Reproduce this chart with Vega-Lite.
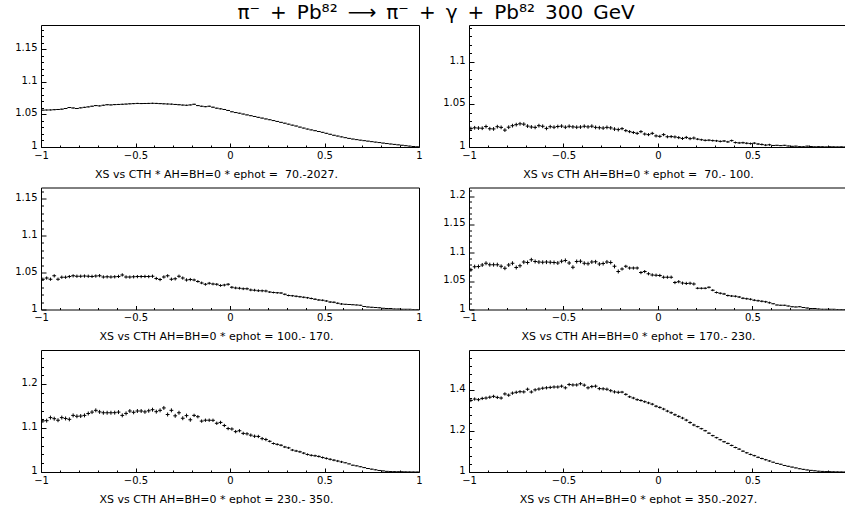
{
  "$schema": "https://vega.github.io/schema/vega-lite/v6.json",
  "background": "white",
  "padding": {"left": 14, "top": 3, "right": 0, "bottom": 0},
  "title": {"text": "π⁻\u2002+\u2002Pb⁸²\u2002⟶\u2002π⁻\u2002+\u2002γ\u2002+\u2002Pb⁸²\u2002300\u2002GeV", "font": "DejaVu Sans", "fontSize": 20, "fontWeight": "normal", "color": "black", "anchor": "middle", "offset": 2, "dx": 6},
  "config": {
    "view": {"stroke": null},
    "axis": {"grid": false, "domainColor": "black", "domainWidth": 1, "tickColor": "black", "tickWidth": 1, "labelColor": "black", "labelFont": "DejaVu Sans", "labelFontSize": 10, "titleFont": "DejaVu Sans", "titleFontSize": 11, "titleFontWeight": "normal", "titleColor": "black"}
  },
  "bounds": "flush",
  "columns": 2,
  "spacing": {"row": 40.5, "column": 50},
  "datasets": {
    "p1": [{"x":-0.99,"y":1.0565,"e":0.0008},{"x":-0.97,"y":1.0567,"e":0.0008},{"x":-0.95,"y":1.0568,"e":0.0008},{"x":-0.93,"y":1.0572,"e":0.0008},{"x":-0.91,"y":1.0575,"e":0.0008},{"x":-0.89,"y":1.058,"e":0.0008},{"x":-0.87,"y":1.059,"e":0.0008},{"x":-0.85,"y":1.0605,"e":0.0008},{"x":-0.83,"y":1.0598,"e":0.0008},{"x":-0.81,"y":1.059,"e":0.0008},
      {"x":-0.79,"y":1.06,"e":0.0008},{"x":-0.77,"y":1.0608,"e":0.0008},{"x":-0.75,"y":1.0615,"e":0.0008},{"x":-0.73,"y":1.0625,"e":0.0008},{"x":-0.71,"y":1.0635,"e":0.0008},{"x":-0.69,"y":1.063,"e":0.0008},{"x":-0.67,"y":1.064,"e":0.0008},{"x":-0.65,"y":1.0648,"e":0.0008},{"x":-0.63,"y":1.0645,"e":0.0008},{"x":-0.61,"y":1.065,"e":0.0008},
      {"x":-0.59,"y":1.0652,"e":0.0008},{"x":-0.57,"y":1.0655,"e":0.0008},{"x":-0.55,"y":1.0658,"e":0.0008},{"x":-0.53,"y":1.0662,"e":0.0008},{"x":-0.51,"y":1.0665,"e":0.0008},{"x":-0.49,"y":1.0668,"e":0.0008},{"x":-0.47,"y":1.0666,"e":0.0008},{"x":-0.45,"y":1.0667,"e":0.0008},{"x":-0.43,"y":1.0668,"e":0.0008},{"x":-0.41,"y":1.067,"e":0.0008},
      {"x":-0.39,"y":1.0668,"e":0.0008},{"x":-0.37,"y":1.0665,"e":0.0008},{"x":-0.35,"y":1.0662,"e":0.0008},{"x":-0.33,"y":1.066,"e":0.0008},{"x":-0.31,"y":1.0657,"e":0.0008},{"x":-0.29,"y":1.0652,"e":0.0008},{"x":-0.27,"y":1.0648,"e":0.0008},{"x":-0.25,"y":1.0643,"e":0.0008},{"x":-0.23,"y":1.064,"e":0.0008},{"x":-0.21,"y":1.0645,"e":0.0008},
      {"x":-0.19,"y":1.0655,"e":0.0008},{"x":-0.17,"y":1.0635,"e":0.0008},{"x":-0.15,"y":1.0625,"e":0.0008},{"x":-0.13,"y":1.0618,"e":0.0008},{"x":-0.11,"y":1.0625,"e":0.0008},{"x":-0.09,"y":1.061,"e":0.0008},{"x":-0.07,"y":1.0595,"e":0.0008},{"x":-0.05,"y":1.0585,"e":0.0008},{"x":-0.03,"y":1.0575,"e":0.0008},{"x":-0.01,"y":1.056,"e":0.0008},
      {"x":0.01,"y":1.054,"e":0.0006},{"x":0.03,"y":1.0528,"e":0.0006},{"x":0.05,"y":1.0518,"e":0.0006},{"x":0.07,"y":1.0505,"e":0.0006},{"x":0.09,"y":1.0492,"e":0.0006},{"x":0.11,"y":1.048,"e":0.0006},{"x":0.13,"y":1.0468,"e":0.0006},{"x":0.15,"y":1.0455,"e":0.0006},{"x":0.17,"y":1.0443,"e":0.0006},{"x":0.19,"y":1.043,"e":0.0006},
      {"x":0.21,"y":1.0418,"e":0.0006},{"x":0.23,"y":1.0405,"e":0.0006},{"x":0.25,"y":1.0392,"e":0.0006},{"x":0.27,"y":1.0378,"e":0.0006},{"x":0.29,"y":1.0365,"e":0.0006},{"x":0.31,"y":1.035,"e":0.0006},{"x":0.33,"y":1.0335,"e":0.0006},{"x":0.35,"y":1.032,"e":0.0006},{"x":0.37,"y":1.0305,"e":0.0006},{"x":0.39,"y":1.029,"e":0.0006},
      {"x":0.41,"y":1.0275,"e":0.0006},{"x":0.43,"y":1.0262,"e":0.0006},{"x":0.45,"y":1.025,"e":0.0006},{"x":0.47,"y":1.0238,"e":0.0006},{"x":0.49,"y":1.0225,"e":0.0006},{"x":0.51,"y":1.021,"e":0.0006},{"x":0.53,"y":1.0195,"e":0.0006},{"x":0.55,"y":1.018,"e":0.0006},{"x":0.57,"y":1.0168,"e":0.0006},{"x":0.59,"y":1.0155,"e":0.0006},
      {"x":0.61,"y":1.0143,"e":0.0004},{"x":0.63,"y":1.0132,"e":0.0004},{"x":0.65,"y":1.0122,"e":0.0004},{"x":0.67,"y":1.0113,"e":0.0004},{"x":0.69,"y":1.0105,"e":0.0004},{"x":0.71,"y":1.0097,"e":0.0004},{"x":0.73,"y":1.009,"e":0.0004},{"x":0.75,"y":1.0082,"e":0.0004},{"x":0.77,"y":1.0075,"e":0.0004},{"x":0.79,"y":1.0068,"e":0.0004},
      {"x":0.81,"y":1.006,"e":0.0004},{"x":0.83,"y":1.0053,"e":0.0004},{"x":0.85,"y":1.0046,"e":0.0004},{"x":0.87,"y":1.004,"e":0.0004},{"x":0.89,"y":1.0033,"e":0.0004},{"x":0.91,"y":1.0027,"e":0.0004},{"x":0.93,"y":1.002,"e":0.0004},{"x":0.95,"y":1.0014,"e":0.0004},{"x":0.97,"y":1.0008,"e":0.0004},{"x":0.99,"y":1.0003,"e":0.0004}],
    "p2": [{"x":-0.99,"y":1.0216,"e":0.0022},{"x":-0.97,"y":1.0225,"e":0.0022},{"x":-0.95,"y":1.0222,"e":0.0022},{"x":-0.93,"y":1.022,"e":0.0022},{"x":-0.91,"y":1.024,"e":0.0022},{"x":-0.89,"y":1.0214,"e":0.0022},{"x":-0.87,"y":1.0212,"e":0.0022},{"x":-0.85,"y":1.0238,"e":0.0022},{"x":-0.83,"y":1.023,"e":0.0022},{"x":-0.81,"y":1.0198,"e":0.0022},
      {"x":-0.79,"y":1.0232,"e":0.0022},{"x":-0.77,"y":1.025,"e":0.0022},{"x":-0.75,"y":1.0262,"e":0.0022},{"x":-0.73,"y":1.0272,"e":0.0022},{"x":-0.71,"y":1.0268,"e":0.0022},{"x":-0.69,"y":1.0245,"e":0.0022},{"x":-0.67,"y":1.0235,"e":0.0022},{"x":-0.65,"y":1.023,"e":0.0022},{"x":-0.63,"y":1.025,"e":0.0022},{"x":-0.61,"y":1.0243,"e":0.0022},
      {"x":-0.59,"y":1.0218,"e":0.0022},{"x":-0.57,"y":1.0238,"e":0.0022},{"x":-0.55,"y":1.0232,"e":0.0022},{"x":-0.53,"y":1.024,"e":0.0022},{"x":-0.51,"y":1.0245,"e":0.0022},{"x":-0.49,"y":1.0232,"e":0.0022},{"x":-0.47,"y":1.0243,"e":0.0022},{"x":-0.45,"y":1.0236,"e":0.0022},{"x":-0.43,"y":1.0232,"e":0.0022},{"x":-0.41,"y":1.0234,"e":0.0022},
      {"x":-0.39,"y":1.0243,"e":0.0022},{"x":-0.37,"y":1.0236,"e":0.0022},{"x":-0.35,"y":1.0244,"e":0.0022},{"x":-0.33,"y":1.023,"e":0.0022},{"x":-0.31,"y":1.0226,"e":0.0022},{"x":-0.29,"y":1.0222,"e":0.0022},{"x":-0.27,"y":1.023,"e":0.0022},{"x":-0.25,"y":1.0224,"e":0.0022},{"x":-0.23,"y":1.021,"e":0.0022},{"x":-0.21,"y":1.0204,"e":0.0022},
      {"x":-0.19,"y":1.0215,"e":0.0018},{"x":-0.17,"y":1.0192,"e":0.0018},{"x":-0.15,"y":1.018,"e":0.0018},{"x":-0.13,"y":1.017,"e":0.0018},{"x":-0.11,"y":1.016,"e":0.0018},{"x":-0.09,"y":1.018,"e":0.0018},{"x":-0.07,"y":1.0152,"e":0.0018},{"x":-0.05,"y":1.0145,"e":0.0018},{"x":-0.03,"y":1.016,"e":0.0018},{"x":-0.01,"y":1.013,"e":0.0018},
      {"x":0.01,"y":1.0125,"e":0.0018},{"x":0.03,"y":1.0145,"e":0.0018},{"x":0.05,"y":1.012,"e":0.0018},{"x":0.07,"y":1.0122,"e":0.0018},{"x":0.09,"y":1.0118,"e":0.0018},{"x":0.11,"y":1.011,"e":0.0018},{"x":0.13,"y":1.01,"e":0.0018},{"x":0.15,"y":1.0112,"e":0.0018},{"x":0.17,"y":1.0098,"e":0.0018},{"x":0.19,"y":1.0105,"e":0.0018},
      {"x":0.21,"y":1.0092,"e":0.0012},{"x":0.23,"y":1.0085,"e":0.0012},{"x":0.25,"y":1.0078,"e":0.0012},{"x":0.27,"y":1.008,"e":0.0012},{"x":0.29,"y":1.0075,"e":0.0012},{"x":0.31,"y":1.0072,"e":0.0012},{"x":0.33,"y":1.0066,"e":0.0012},{"x":0.35,"y":1.007,"e":0.0012},{"x":0.37,"y":1.006,"e":0.0012},{"x":0.39,"y":1.0075,"e":0.0012},
      {"x":0.41,"y":1.0052,"e":0.0012},{"x":0.43,"y":1.0048,"e":0.0012},{"x":0.45,"y":1.005,"e":0.0012},{"x":0.47,"y":1.0044,"e":0.0012},{"x":0.49,"y":1.004,"e":0.0012},{"x":0.51,"y":1.0045,"e":0.0012},{"x":0.53,"y":1.0035,"e":0.0012},{"x":0.55,"y":1.003,"e":0.0012},{"x":0.57,"y":1.0022,"e":0.0012},{"x":0.59,"y":1.0026,"e":0.0012},
      {"x":0.61,"y":1.0018,"e":0.0005},{"x":0.63,"y":1.002,"e":0.0005},{"x":0.65,"y":1.0016,"e":0.0005},{"x":0.67,"y":1.002,"e":0.0005},{"x":0.69,"y":1.0012,"e":0.0005},{"x":0.71,"y":1.0008,"e":0.0005},{"x":0.73,"y":1.001,"e":0.0005},{"x":0.75,"y":1.0004,"e":0.0005},{"x":0.77,"y":1.0003,"e":0.0005},{"x":0.79,"y":1.001,"e":0.0005},
      {"x":0.81,"y":1.0006,"e":0.0003},{"x":0.83,"y":1.0002,"e":0.0003},{"x":0.85,"y":1.0004,"e":0.0003},{"x":0.87,"y":1.0003,"e":0.0003},{"x":0.89,"y":1.0001,"e":0.0003},{"x":0.91,"y":1.0003,"e":0.0003},{"x":0.93,"y":1.0002,"e":0.0003},{"x":0.95,"y":1.0001,"e":0.0003},{"x":0.97,"y":1.0002,"e":0.0003},{"x":0.99,"y":1.0001,"e":0.0003}],
    "p3": [{"x":-0.99,"y":1.041,"e":0.0022},{"x":-0.97,"y":1.0425,"e":0.0022},{"x":-0.95,"y":1.041,"e":0.0022},{"x":-0.93,"y":1.0455,"e":0.0022},{"x":-0.91,"y":1.041,"e":0.0022},{"x":-0.89,"y":1.0437,"e":0.0022},{"x":-0.87,"y":1.0437,"e":0.0022},{"x":-0.85,"y":1.0445,"e":0.0022},{"x":-0.83,"y":1.0455,"e":0.0022},{"x":-0.81,"y":1.045,"e":0.0022},
      {"x":-0.79,"y":1.045,"e":0.0022},{"x":-0.77,"y":1.0452,"e":0.0022},{"x":-0.75,"y":1.045,"e":0.0022},{"x":-0.73,"y":1.0448,"e":0.0022},{"x":-0.71,"y":1.0452,"e":0.0022},{"x":-0.69,"y":1.0458,"e":0.0022},{"x":-0.67,"y":1.044,"e":0.0022},{"x":-0.65,"y":1.0442,"e":0.0022},{"x":-0.63,"y":1.044,"e":0.0022},{"x":-0.61,"y":1.0442,"e":0.0022},
      {"x":-0.59,"y":1.0448,"e":0.0022},{"x":-0.57,"y":1.0468,"e":0.0022},{"x":-0.55,"y":1.044,"e":0.0022},{"x":-0.53,"y":1.0438,"e":0.0022},{"x":-0.51,"y":1.0442,"e":0.0022},{"x":-0.49,"y":1.0445,"e":0.0022},{"x":-0.47,"y":1.0445,"e":0.0022},{"x":-0.45,"y":1.0447,"e":0.0022},{"x":-0.43,"y":1.0445,"e":0.0022},{"x":-0.41,"y":1.045,"e":0.0022},
      {"x":-0.39,"y":1.042,"e":0.0022},{"x":-0.37,"y":1.0405,"e":0.0022},{"x":-0.35,"y":1.044,"e":0.0022},{"x":-0.33,"y":1.0455,"e":0.0022},{"x":-0.31,"y":1.041,"e":0.0022},{"x":-0.29,"y":1.0415,"e":0.0022},{"x":-0.27,"y":1.045,"e":0.0022},{"x":-0.25,"y":1.0425,"e":0.0022},{"x":-0.23,"y":1.04,"e":0.0022},{"x":-0.21,"y":1.0405,"e":0.0022},
      {"x":-0.19,"y":1.04,"e":0.0018},{"x":-0.17,"y":1.038,"e":0.0018},{"x":-0.15,"y":1.036,"e":0.0018},{"x":-0.13,"y":1.034,"e":0.0018},{"x":-0.11,"y":1.0355,"e":0.0018},{"x":-0.09,"y":1.0345,"e":0.0018},{"x":-0.07,"y":1.034,"e":0.0018},{"x":-0.05,"y":1.0325,"e":0.0018},{"x":-0.03,"y":1.033,"e":0.0018},{"x":-0.01,"y":1.034,"e":0.0018},
      {"x":0.01,"y":1.03,"e":0.0018},{"x":0.03,"y":1.0292,"e":0.0018},{"x":0.05,"y":1.0288,"e":0.0018},{"x":0.07,"y":1.028,"e":0.0018},{"x":0.09,"y":1.028,"e":0.0018},{"x":0.11,"y":1.0265,"e":0.0018},{"x":0.13,"y":1.0262,"e":0.0018},{"x":0.15,"y":1.0255,"e":0.0018},{"x":0.17,"y":1.0252,"e":0.0018},{"x":0.19,"y":1.025,"e":0.0018},
      {"x":0.21,"y":1.0235,"e":0.0012},{"x":0.23,"y":1.023,"e":0.0012},{"x":0.25,"y":1.0225,"e":0.0012},{"x":0.27,"y":1.0222,"e":0.0012},{"x":0.29,"y":1.0205,"e":0.0012},{"x":0.31,"y":1.019,"e":0.0012},{"x":0.33,"y":1.0185,"e":0.0012},{"x":0.35,"y":1.0178,"e":0.0012},{"x":0.37,"y":1.0172,"e":0.0012},{"x":0.39,"y":1.0165,"e":0.0012},
      {"x":0.41,"y":1.0158,"e":0.0012},{"x":0.43,"y":1.015,"e":0.0012},{"x":0.45,"y":1.014,"e":0.0012},{"x":0.47,"y":1.013,"e":0.0012},{"x":0.49,"y":1.0125,"e":0.0012},{"x":0.51,"y":1.0115,"e":0.0012},{"x":0.53,"y":1.01,"e":0.0012},{"x":0.55,"y":1.0098,"e":0.0012},{"x":0.57,"y":1.0085,"e":0.0012},{"x":0.59,"y":1.0075,"e":0.0012},
      {"x":0.61,"y":1.007,"e":0.0005},{"x":0.63,"y":1.0068,"e":0.0005},{"x":0.65,"y":1.0065,"e":0.0005},{"x":0.67,"y":1.0062,"e":0.0005},{"x":0.69,"y":1.0058,"e":0.0005},{"x":0.71,"y":1.004,"e":0.0005},{"x":0.73,"y":1.0035,"e":0.0005},{"x":0.75,"y":1.003,"e":0.0005},{"x":0.77,"y":1.0028,"e":0.0005},{"x":0.79,"y":1.0022,"e":0.0005},
      {"x":0.81,"y":1.0016,"e":0.0003},{"x":0.83,"y":1.0014,"e":0.0003},{"x":0.85,"y":1.0012,"e":0.0003},{"x":0.87,"y":1.0008,"e":0.0003},{"x":0.89,"y":1.0006,"e":0.0003},{"x":0.91,"y":1.0004,"e":0.0003},{"x":0.93,"y":1.0003,"e":0.0003},{"x":0.95,"y":1.0002,"e":0.0003},{"x":0.97,"y":1.0001,"e":0.0003},{"x":0.99,"y":1.0001,"e":0.0003}],
    "p4": [{"x":-0.99,"y":1.07,"e":0.0035},{"x":-0.97,"y":1.0755,"e":0.0035},{"x":-0.95,"y":1.0758,"e":0.0035},{"x":-0.93,"y":1.0785,"e":0.0035},{"x":-0.91,"y":1.0815,"e":0.0035},{"x":-0.89,"y":1.079,"e":0.0035},{"x":-0.87,"y":1.079,"e":0.0035},{"x":-0.85,"y":1.079,"e":0.0035},{"x":-0.83,"y":1.076,"e":0.0035},{"x":-0.81,"y":1.0728,"e":0.0035},
      {"x":-0.79,"y":1.0785,"e":0.0035},{"x":-0.77,"y":1.0815,"e":0.0035},{"x":-0.75,"y":1.074,"e":0.0035},{"x":-0.73,"y":1.077,"e":0.0035},{"x":-0.71,"y":1.0835,"e":0.0035},{"x":-0.69,"y":1.0828,"e":0.0035},{"x":-0.67,"y":1.0876,"e":0.0035},{"x":-0.65,"y":1.0846,"e":0.0035},{"x":-0.63,"y":1.0835,"e":0.0035},{"x":-0.61,"y":1.0832,"e":0.0035},
      {"x":-0.59,"y":1.0835,"e":0.0035},{"x":-0.57,"y":1.0832,"e":0.0035},{"x":-0.55,"y":1.0828,"e":0.0035},{"x":-0.53,"y":1.082,"e":0.0035},{"x":-0.51,"y":1.085,"e":0.0035},{"x":-0.49,"y":1.0865,"e":0.0035},{"x":-0.47,"y":1.082,"e":0.0035},{"x":-0.45,"y":1.0745,"e":0.0035},{"x":-0.43,"y":1.0846,"e":0.0035},{"x":-0.41,"y":1.085,"e":0.0035},
      {"x":-0.39,"y":1.0815,"e":0.0035},{"x":-0.37,"y":1.0808,"e":0.0035},{"x":-0.35,"y":1.0838,"e":0.0035},{"x":-0.33,"y":1.084,"e":0.0035},{"x":-0.31,"y":1.08,"e":0.0035},{"x":-0.29,"y":1.081,"e":0.0035},{"x":-0.27,"y":1.0838,"e":0.0035},{"x":-0.25,"y":1.083,"e":0.0035},{"x":-0.23,"y":1.076,"e":0.0035},{"x":-0.21,"y":1.067,"e":0.0035},
      {"x":-0.19,"y":1.0715,"e":0.0028},{"x":-0.17,"y":1.076,"e":0.0028},{"x":-0.15,"y":1.073,"e":0.0028},{"x":-0.13,"y":1.073,"e":0.0028},{"x":-0.11,"y":1.073,"e":0.0028},{"x":-0.09,"y":1.065,"e":0.0028},{"x":-0.07,"y":1.0668,"e":0.0028},{"x":-0.05,"y":1.063,"e":0.0028},{"x":-0.03,"y":1.061,"e":0.0028},{"x":-0.01,"y":1.0605,"e":0.0028},
      {"x":0.01,"y":1.06,"e":0.0028},{"x":0.03,"y":1.057,"e":0.0028},{"x":0.05,"y":1.057,"e":0.0028},{"x":0.07,"y":1.057,"e":0.0028},{"x":0.09,"y":1.0475,"e":0.0028},{"x":0.11,"y":1.049,"e":0.0028},{"x":0.13,"y":1.0465,"e":0.0028},{"x":0.15,"y":1.046,"e":0.0028},{"x":0.17,"y":1.0462,"e":0.0028},{"x":0.19,"y":1.045,"e":0.0028},
      {"x":0.21,"y":1.0375,"e":0.0018},{"x":0.23,"y":1.0373,"e":0.0018},{"x":0.25,"y":1.0375,"e":0.0018},{"x":0.27,"y":1.039,"e":0.0018},{"x":0.29,"y":1.034,"e":0.0018},{"x":0.31,"y":1.03,"e":0.0018},{"x":0.33,"y":1.0285,"e":0.0018},{"x":0.35,"y":1.0275,"e":0.0018},{"x":0.37,"y":1.0245,"e":0.0018},{"x":0.39,"y":1.0238,"e":0.0018},
      {"x":0.41,"y":1.0232,"e":0.0018},{"x":0.43,"y":1.022,"e":0.0018},{"x":0.45,"y":1.02,"e":0.0018},{"x":0.47,"y":1.019,"e":0.0018},{"x":0.49,"y":1.018,"e":0.0018},{"x":0.51,"y":1.0165,"e":0.0018},{"x":0.53,"y":1.0155,"e":0.0018},{"x":0.55,"y":1.0145,"e":0.0018},{"x":0.57,"y":1.0135,"e":0.0018},{"x":0.59,"y":1.012,"e":0.0018},
      {"x":0.61,"y":1.01,"e":0.0008},{"x":0.63,"y":1.008,"e":0.0008},{"x":0.65,"y":1.0076,"e":0.0008},{"x":0.67,"y":1.0075,"e":0.0008},{"x":0.69,"y":1.006,"e":0.0008},{"x":0.71,"y":1.0048,"e":0.0008},{"x":0.73,"y":1.0046,"e":0.0008},{"x":0.75,"y":1.005,"e":0.0008},{"x":0.77,"y":1.0035,"e":0.0008},{"x":0.79,"y":1.0025,"e":0.0008},
      {"x":0.81,"y":1.0018,"e":0.0005},{"x":0.83,"y":1.0016,"e":0.0005},{"x":0.85,"y":1.001,"e":0.0005},{"x":0.87,"y":1.0006,"e":0.0005},{"x":0.89,"y":1.0005,"e":0.0005},{"x":0.91,"y":1.0004,"e":0.0005},{"x":0.93,"y":1.0003,"e":0.0005},{"x":0.95,"y":1.0002,"e":0.0005},{"x":0.97,"y":1.0001,"e":0.0005},{"x":0.99,"y":1.0001,"e":0.0005}],
    "p5": [{"x":-0.99,"y":1.1164,"e":0.0045},{"x":-0.97,"y":1.117,"e":0.0045},{"x":-0.95,"y":1.124,"e":0.0045},{"x":-0.93,"y":1.1215,"e":0.0045},{"x":-0.91,"y":1.118,"e":0.0045},{"x":-0.89,"y":1.124,"e":0.0045},{"x":-0.87,"y":1.122,"e":0.0045},{"x":-0.85,"y":1.12,"e":0.0045},{"x":-0.83,"y":1.129,"e":0.0045},{"x":-0.81,"y":1.127,"e":0.0045},
      {"x":-0.79,"y":1.1275,"e":0.0045},{"x":-0.77,"y":1.129,"e":0.0045},{"x":-0.75,"y":1.1333,"e":0.0045},{"x":-0.73,"y":1.1365,"e":0.0045},{"x":-0.71,"y":1.1405,"e":0.0045},{"x":-0.69,"y":1.137,"e":0.0045},{"x":-0.67,"y":1.135,"e":0.0045},{"x":-0.65,"y":1.135,"e":0.0045},{"x":-0.63,"y":1.135,"e":0.0045},{"x":-0.61,"y":1.1352,"e":0.0045},
      {"x":-0.59,"y":1.1365,"e":0.0045},{"x":-0.57,"y":1.129,"e":0.0045},{"x":-0.55,"y":1.1335,"e":0.0045},{"x":-0.53,"y":1.139,"e":0.0045},{"x":-0.51,"y":1.136,"e":0.0045},{"x":-0.49,"y":1.139,"e":0.0045},{"x":-0.47,"y":1.139,"e":0.0045},{"x":-0.45,"y":1.137,"e":0.0045},{"x":-0.43,"y":1.1395,"e":0.0045},{"x":-0.41,"y":1.142,"e":0.0045},
      {"x":-0.39,"y":1.1375,"e":0.0045},{"x":-0.37,"y":1.1405,"e":0.0045},{"x":-0.35,"y":1.146,"e":0.0045},{"x":-0.33,"y":1.131,"e":0.0045},{"x":-0.31,"y":1.1405,"e":0.0045},{"x":-0.29,"y":1.128,"e":0.0045},{"x":-0.27,"y":1.135,"e":0.0045},{"x":-0.25,"y":1.1225,"e":0.0045},{"x":-0.23,"y":1.1285,"e":0.0045},{"x":-0.21,"y":1.119,"e":0.0045},
      {"x":-0.19,"y":1.129,"e":0.0038},{"x":-0.17,"y":1.126,"e":0.0038},{"x":-0.15,"y":1.116,"e":0.0038},{"x":-0.13,"y":1.118,"e":0.0038},{"x":-0.11,"y":1.118,"e":0.0038},{"x":-0.09,"y":1.1178,"e":0.0038},{"x":-0.07,"y":1.111,"e":0.0038},{"x":-0.05,"y":1.113,"e":0.0038},{"x":-0.03,"y":1.106,"e":0.0038},{"x":-0.01,"y":1.099,"e":0.0038},
      {"x":0.01,"y":1.098,"e":0.0038},{"x":0.03,"y":1.092,"e":0.0038},{"x":0.05,"y":1.094,"e":0.0038},{"x":0.07,"y":1.088,"e":0.0038},{"x":0.09,"y":1.087,"e":0.0038},{"x":0.11,"y":1.084,"e":0.0038},{"x":0.13,"y":1.0815,"e":0.0038},{"x":0.15,"y":1.081,"e":0.0038},{"x":0.17,"y":1.076,"e":0.0038},{"x":0.19,"y":1.074,"e":0.0038},
      {"x":0.21,"y":1.07,"e":0.0025},{"x":0.23,"y":1.065,"e":0.0025},{"x":0.25,"y":1.063,"e":0.0025},{"x":0.27,"y":1.061,"e":0.0025},{"x":0.29,"y":1.057,"e":0.0025},{"x":0.31,"y":1.055,"e":0.0025},{"x":0.33,"y":1.05,"e":0.0025},{"x":0.35,"y":1.048,"e":0.0025},{"x":0.37,"y":1.046,"e":0.0025},{"x":0.39,"y":1.043,"e":0.0025},
      {"x":0.41,"y":1.04,"e":0.0025},{"x":0.43,"y":1.038,"e":0.0025},{"x":0.45,"y":1.037,"e":0.0025},{"x":0.47,"y":1.0355,"e":0.0025},{"x":0.49,"y":1.033,"e":0.0025},{"x":0.51,"y":1.031,"e":0.0025},{"x":0.53,"y":1.029,"e":0.0025},{"x":0.55,"y":1.027,"e":0.0025},{"x":0.57,"y":1.025,"e":0.0025},{"x":0.59,"y":1.023,"e":0.0025},
      {"x":0.61,"y":1.021,"e":0.001},{"x":0.63,"y":1.0185,"e":0.001},{"x":0.65,"y":1.0155,"e":0.001},{"x":0.67,"y":1.014,"e":0.001},{"x":0.69,"y":1.012,"e":0.001},{"x":0.71,"y":1.01,"e":0.001},{"x":0.73,"y":1.008,"e":0.001},{"x":0.75,"y":1.0065,"e":0.001},{"x":0.77,"y":1.005,"e":0.001},{"x":0.79,"y":1.0035,"e":0.001},
      {"x":0.81,"y":1.0025,"e":0.0006},{"x":0.83,"y":1.0015,"e":0.0006},{"x":0.85,"y":1.001,"e":0.0006},{"x":0.87,"y":1.0008,"e":0.0006},{"x":0.89,"y":1.0006,"e":0.0006},{"x":0.91,"y":1.0005,"e":0.0006},{"x":0.93,"y":1.0003,"e":0.0006},{"x":0.95,"y":1.0002,"e":0.0006},{"x":0.97,"y":1.0001,"e":0.0006},{"x":0.99,"y":1.0,"e":0.0006}],
    "p6": [{"x":-0.99,"y":1.35,"e":0.008},{"x":-0.97,"y":1.357,"e":0.008},{"x":-0.95,"y":1.354,"e":0.008},{"x":-0.93,"y":1.36,"e":0.008},{"x":-0.91,"y":1.362,"e":0.008},{"x":-0.89,"y":1.366,"e":0.008},{"x":-0.87,"y":1.37,"e":0.008},{"x":-0.85,"y":1.365,"e":0.008},{"x":-0.83,"y":1.362,"e":0.008},{"x":-0.81,"y":1.382,"e":0.008},
      {"x":-0.79,"y":1.376,"e":0.008},{"x":-0.77,"y":1.386,"e":0.008},{"x":-0.75,"y":1.39,"e":0.008},{"x":-0.73,"y":1.393,"e":0.008},{"x":-0.71,"y":1.392,"e":0.008},{"x":-0.69,"y":1.405,"e":0.008},{"x":-0.67,"y":1.392,"e":0.008},{"x":-0.65,"y":1.402,"e":0.008},{"x":-0.63,"y":1.406,"e":0.008},{"x":-0.61,"y":1.41,"e":0.008},
      {"x":-0.59,"y":1.412,"e":0.008},{"x":-0.57,"y":1.414,"e":0.008},{"x":-0.55,"y":1.416,"e":0.008},{"x":-0.53,"y":1.416,"e":0.008},{"x":-0.51,"y":1.42,"e":0.008},{"x":-0.49,"y":1.412,"e":0.008},{"x":-0.47,"y":1.428,"e":0.008},{"x":-0.45,"y":1.426,"e":0.008},{"x":-0.43,"y":1.426,"e":0.008},{"x":-0.41,"y":1.432,"e":0.008},
      {"x":-0.39,"y":1.425,"e":0.008},{"x":-0.37,"y":1.412,"e":0.008},{"x":-0.35,"y":1.418,"e":0.008},{"x":-0.33,"y":1.42,"e":0.008},{"x":-0.31,"y":1.408,"e":0.008},{"x":-0.29,"y":1.407,"e":0.008},{"x":-0.27,"y":1.405,"e":0.008},{"x":-0.25,"y":1.398,"e":0.008},{"x":-0.23,"y":1.392,"e":0.008},{"x":-0.21,"y":1.39,"e":0.008},
      {"x":-0.19,"y":1.391,"e":0.006},{"x":-0.17,"y":1.38,"e":0.006},{"x":-0.15,"y":1.368,"e":0.006},{"x":-0.13,"y":1.362,"e":0.006},{"x":-0.11,"y":1.354,"e":0.006},{"x":-0.09,"y":1.35,"e":0.006},{"x":-0.07,"y":1.344,"e":0.006},{"x":-0.05,"y":1.338,"e":0.006},{"x":-0.03,"y":1.332,"e":0.006},{"x":-0.01,"y":1.322,"e":0.006},
      {"x":0.01,"y":1.316,"e":0.006},{"x":0.03,"y":1.308,"e":0.006},{"x":0.05,"y":1.298,"e":0.006},{"x":0.07,"y":1.29,"e":0.006},{"x":0.09,"y":1.28,"e":0.006},{"x":0.11,"y":1.272,"e":0.006},{"x":0.13,"y":1.264,"e":0.006},{"x":0.15,"y":1.254,"e":0.006},{"x":0.17,"y":1.242,"e":0.006},{"x":0.19,"y":1.23,"e":0.006},
      {"x":0.21,"y":1.222,"e":0.004},{"x":0.23,"y":1.212,"e":0.004},{"x":0.25,"y":1.202,"e":0.004},{"x":0.27,"y":1.19,"e":0.004},{"x":0.29,"y":1.178,"e":0.004},{"x":0.31,"y":1.168,"e":0.004},{"x":0.33,"y":1.158,"e":0.004},{"x":0.35,"y":1.148,"e":0.004},{"x":0.37,"y":1.14,"e":0.004},{"x":0.39,"y":1.13,"e":0.004},
      {"x":0.41,"y":1.12,"e":0.004},{"x":0.43,"y":1.112,"e":0.004},{"x":0.45,"y":1.102,"e":0.004},{"x":0.47,"y":1.094,"e":0.004},{"x":0.49,"y":1.086,"e":0.004},{"x":0.51,"y":1.08,"e":0.004},{"x":0.53,"y":1.072,"e":0.004},{"x":0.55,"y":1.066,"e":0.004},{"x":0.57,"y":1.06,"e":0.004},{"x":0.59,"y":1.054,"e":0.004},
      {"x":0.61,"y":1.048,"e":0.002},{"x":0.63,"y":1.042,"e":0.002},{"x":0.65,"y":1.038,"e":0.002},{"x":0.67,"y":1.032,"e":0.002},{"x":0.69,"y":1.028,"e":0.002},{"x":0.71,"y":1.024,"e":0.002},{"x":0.73,"y":1.02,"e":0.002},{"x":0.75,"y":1.016,"e":0.002},{"x":0.77,"y":1.013,"e":0.002},{"x":0.79,"y":1.01,"e":0.002},
      {"x":0.81,"y":1.008,"e":0.0015},{"x":0.83,"y":1.006,"e":0.0015},{"x":0.85,"y":1.004,"e":0.0015},{"x":0.87,"y":1.003,"e":0.0015},{"x":0.89,"y":1.002,"e":0.0015},{"x":0.91,"y":1.0015,"e":0.0015},{"x":0.93,"y":1.001,"e":0.0015},{"x":0.95,"y":1.0006,"e":0.0015},{"x":0.97,"y":1.0003,"e":0.0015},{"x":0.99,"y":1.0001,"e":0.0015}]
  },
  "concat": [
    {
      "width": 378, "height": 122,
      "data": {"name": "p1"},
      "resolve": {"axis": {"x": "independent", "y": "independent"}},
      "layer": [
        {"mark": {"type": "tick", "orient": "horizontal", "size": 3.8, "thickness": 1, "color": "black", "opacity": 1, "clip": true},
         "encoding": {
           "x": {"field": "x", "type": "quantitative", "scale": {"domain": [-1, 1], "nice": false, "zero": false}, "axis": {"orient": "bottom", "values": [-1, -0.5, 0, 0.5, 1], "format": "~g", "ticks": false, "labelPadding": 3, "labelFlush": false, "labelOverlap": false, "title": "XS vs CTH * AH=BH=0 * ephot = \u00a070.-2027.", "titleX": 175, "titleY": 30, "titleAlign": "center", "titleBaseline": "alphabetic"}},
           "y": {"field": "y", "type": "quantitative", "scale": {"domain": [1, 1.187], "nice": false, "zero": false}, "axis": {"orient": "left", "values": [1, 1.05, 1.1, 1.15], "format": "~g", "ticks": false, "labelPadding": 4, "labelOffset": -1.5, "labelFlush": false, "labelOverlap": false, "title": null}}}},
        {"mark": {"type": "errorbar", "color": "black", "thickness": 1},
         "encoding": {"x": {"field": "x", "type": "quantitative", "axis": null}, "y": {"field": "y", "type": "quantitative", "axis": null}, "yError": {"field": "e"}}},
        {"mark": {"type": "tick", "opacity": 0, "clip": true},
         "encoding": {"x": {"field": "x", "type": "quantitative", "axis": {"orient": "bottom", "values": [-1, -0.5, 0, 0.5, 1], "tickSize": -4, "labels": false, "domain": false, "title": null}},
                      "y": {"field": "y", "type": "quantitative", "axis": {"orient": "left", "values": [1, 1.05, 1.1, 1.15], "tickSize": -5, "labels": false, "domain": false, "title": null}}}},
        {"mark": {"type": "tick", "opacity": 0, "clip": true},
         "encoding": {"x": {"field": "x", "type": "quantitative", "axis": {"orient": "bottom", "values": [-0.9, -0.8, -0.7, -0.6, -0.4, -0.3, -0.2, -0.1, 0.1, 0.2, 0.3, 0.4, 0.6, 0.7, 0.8, 0.9], "tickSize": -2, "labels": false, "domain": false, "title": null}},
                      "y": {"field": "y", "type": "quantitative", "axis": {"orient": "left", "values": [1.01, 1.02, 1.03, 1.04, 1.06, 1.07, 1.08, 1.09, 1.11, 1.12, 1.13, 1.14, 1.16, 1.17, 1.18], "tickSize": -2.5, "labels": false, "domain": false, "title": null}}}},
        {"mark": {"type": "tick", "opacity": 0, "clip": true},
         "encoding": {"x": {"field": "x", "type": "quantitative", "axis": {"orient": "top", "ticks": false, "labels": false, "domain": true, "title": null}},
                      "y": {"field": "y", "type": "quantitative", "axis": {"orient": "right", "ticks": false, "labels": false, "domain": true, "title": null}}}}
      ]
    },
    {
      "width": 376, "height": 122,
      "data": {"name": "p2"},
      "resolve": {"axis": {"x": "independent", "y": "independent"}},
      "layer": [
        {"mark": {"type": "tick", "orient": "horizontal", "size": 3.8, "thickness": 1, "color": "black", "opacity": 1, "clip": true},
         "encoding": {
           "x": {"field": "x", "type": "quantitative", "scale": {"domain": [-1, 0.99], "nice": false, "zero": false}, "axis": {"orient": "bottom", "values": [-1, -0.5, 0, 0.5], "format": "~g", "ticks": false, "labelPadding": 3, "labelFlush": false, "labelOverlap": false, "title": "XS vs CTH AH=BH=0 * ephot = \u00a070.- 100.", "titleX": 169, "titleY": 30, "titleAlign": "center", "titleBaseline": "alphabetic"}},
           "y": {"field": "y", "type": "quantitative", "scale": {"domain": [1, 1.143], "nice": false, "zero": false}, "axis": {"orient": "left", "values": [1, 1.05, 1.1], "format": "~g", "ticks": false, "labelPadding": 4, "labelOffset": -1.5, "labelFlush": false, "labelOverlap": false, "title": null}}}},
        {"mark": {"type": "errorbar", "color": "black", "thickness": 1},
         "encoding": {"x": {"field": "x", "type": "quantitative", "axis": null}, "y": {"field": "y", "type": "quantitative", "axis": null}, "yError": {"field": "e"}}},
        {"mark": {"type": "tick", "opacity": 0, "clip": true},
         "encoding": {"x": {"field": "x", "type": "quantitative", "axis": {"orient": "bottom", "values": [-1, -0.5, 0, 0.5], "tickSize": -4, "labels": false, "domain": false, "title": null}},
                      "y": {"field": "y", "type": "quantitative", "axis": {"orient": "left", "values": [1, 1.05, 1.1], "tickSize": -5, "labels": false, "domain": false, "title": null}}}},
        {"mark": {"type": "tick", "opacity": 0, "clip": true},
         "encoding": {"x": {"field": "x", "type": "quantitative", "axis": {"orient": "bottom", "values": [-0.9, -0.8, -0.7, -0.6, -0.4, -0.3, -0.2, -0.1, 0.1, 0.2, 0.3, 0.4, 0.6, 0.7, 0.8, 0.9], "tickSize": -2, "labels": false, "domain": false, "title": null}},
                      "y": {"field": "y", "type": "quantitative", "axis": {"orient": "left", "values": [1.01, 1.02, 1.03, 1.04, 1.06, 1.07, 1.08, 1.09, 1.11, 1.12, 1.13, 1.14], "tickSize": -2.5, "labels": false, "domain": false, "title": null}}}},
        {"mark": {"type": "tick", "opacity": 0, "clip": true},
         "encoding": {"x": {"field": "x", "type": "quantitative", "axis": {"orient": "top", "ticks": false, "labels": false, "domain": true, "title": null}},
                      "y": {"field": "y", "type": "quantitative", "axis": null}}}
      ]
    },
    {
      "width": 378, "height": 122,
      "data": {"name": "p3"},
      "resolve": {"axis": {"x": "independent", "y": "independent"}},
      "layer": [
        {"mark": {"type": "tick", "orient": "horizontal", "size": 3.8, "thickness": 1, "color": "black", "opacity": 1, "clip": true},
         "encoding": {
           "x": {"field": "x", "type": "quantitative", "scale": {"domain": [-1, 1], "nice": false, "zero": false}, "axis": {"orient": "bottom", "values": [-1, -0.5, 0, 0.5, 1], "format": "~g", "ticks": false, "labelPadding": 3, "labelFlush": false, "labelOverlap": false, "title": "XS vs CTH AH=BH=0 * ephot = 100.- 170.", "titleX": 175, "titleY": 30, "titleAlign": "center", "titleBaseline": "alphabetic"}},
           "y": {"field": "y", "type": "quantitative", "scale": {"domain": [1, 1.165], "nice": false, "zero": false}, "axis": {"orient": "left", "values": [1, 1.05, 1.1, 1.15], "format": "~g", "ticks": false, "labelPadding": 4, "labelOffset": -1.5, "labelFlush": false, "labelOverlap": false, "title": null}}}},
        {"mark": {"type": "errorbar", "color": "black", "thickness": 1},
         "encoding": {"x": {"field": "x", "type": "quantitative", "axis": null}, "y": {"field": "y", "type": "quantitative", "axis": null}, "yError": {"field": "e"}}},
        {"mark": {"type": "tick", "opacity": 0, "clip": true},
         "encoding": {"x": {"field": "x", "type": "quantitative", "axis": {"orient": "bottom", "values": [-1, -0.5, 0, 0.5, 1], "tickSize": -4, "labels": false, "domain": false, "title": null}},
                      "y": {"field": "y", "type": "quantitative", "axis": {"orient": "left", "values": [1, 1.05, 1.1, 1.15], "tickSize": -5, "labels": false, "domain": false, "title": null}}}},
        {"mark": {"type": "tick", "opacity": 0, "clip": true},
         "encoding": {"x": {"field": "x", "type": "quantitative", "axis": {"orient": "bottom", "values": [-0.9, -0.8, -0.7, -0.6, -0.4, -0.3, -0.2, -0.1, 0.1, 0.2, 0.3, 0.4, 0.6, 0.7, 0.8, 0.9], "tickSize": -2, "labels": false, "domain": false, "title": null}},
                      "y": {"field": "y", "type": "quantitative", "axis": {"orient": "left", "values": [1.01, 1.02, 1.03, 1.04, 1.06, 1.07, 1.08, 1.09, 1.11, 1.12, 1.13, 1.14, 1.16], "tickSize": -2.5, "labels": false, "domain": false, "title": null}}}},
        {"mark": {"type": "tick", "opacity": 0, "clip": true},
         "encoding": {"x": {"field": "x", "type": "quantitative", "axis": {"orient": "top", "ticks": false, "labels": false, "domain": true, "title": null}},
                      "y": {"field": "y", "type": "quantitative", "axis": {"orient": "right", "ticks": false, "labels": false, "domain": true, "title": null}}}}
      ]
    },
    {
      "width": 376, "height": 122,
      "data": {"name": "p4"},
      "resolve": {"axis": {"x": "independent", "y": "independent"}},
      "layer": [
        {"mark": {"type": "tick", "orient": "horizontal", "size": 3.8, "thickness": 1, "color": "black", "opacity": 1, "clip": true},
         "encoding": {
           "x": {"field": "x", "type": "quantitative", "scale": {"domain": [-1, 0.99], "nice": false, "zero": false}, "axis": {"orient": "bottom", "values": [-1, -0.5, 0, 0.5], "format": "~g", "ticks": false, "labelPadding": 3, "labelFlush": false, "labelOverlap": false, "title": "XS vs CTH AH=BH=0 * ephot = 170.- 230.", "titleX": 169, "titleY": 30, "titleAlign": "center", "titleBaseline": "alphabetic"}},
           "y": {"field": "y", "type": "quantitative", "scale": {"domain": [1, 1.215], "nice": false, "zero": false}, "axis": {"orient": "left", "values": [1, 1.05, 1.1, 1.15, 1.2], "format": "~g", "ticks": false, "labelPadding": 4, "labelOffset": -1.5, "labelFlush": false, "labelOverlap": false, "title": null}}}},
        {"mark": {"type": "errorbar", "color": "black", "thickness": 1},
         "encoding": {"x": {"field": "x", "type": "quantitative", "axis": null}, "y": {"field": "y", "type": "quantitative", "axis": null}, "yError": {"field": "e"}}},
        {"mark": {"type": "tick", "opacity": 0, "clip": true},
         "encoding": {"x": {"field": "x", "type": "quantitative", "axis": {"orient": "bottom", "values": [-1, -0.5, 0, 0.5], "tickSize": -4, "labels": false, "domain": false, "title": null}},
                      "y": {"field": "y", "type": "quantitative", "axis": {"orient": "left", "values": [1, 1.05, 1.1, 1.15, 1.2], "tickSize": -5, "labels": false, "domain": false, "title": null}}}},
        {"mark": {"type": "tick", "opacity": 0, "clip": true},
         "encoding": {"x": {"field": "x", "type": "quantitative", "axis": {"orient": "bottom", "values": [-0.9, -0.8, -0.7, -0.6, -0.4, -0.3, -0.2, -0.1, 0.1, 0.2, 0.3, 0.4, 0.6, 0.7, 0.8, 0.9], "tickSize": -2, "labels": false, "domain": false, "title": null}},
                      "y": {"field": "y", "type": "quantitative", "axis": {"orient": "left", "values": [1.01, 1.02, 1.03, 1.04, 1.06, 1.07, 1.08, 1.09, 1.11, 1.12, 1.13, 1.14, 1.16, 1.17, 1.18, 1.19, 1.21], "tickSize": -2.5, "labels": false, "domain": false, "title": null}}}},
        {"mark": {"type": "tick", "opacity": 0, "clip": true},
         "encoding": {"x": {"field": "x", "type": "quantitative", "axis": {"orient": "top", "ticks": false, "labels": false, "domain": true, "title": null}},
                      "y": {"field": "y", "type": "quantitative", "axis": null}}}
      ]
    },
    {
      "width": 378, "height": 122,
      "data": {"name": "p5"},
      "resolve": {"axis": {"x": "independent", "y": "independent"}},
      "layer": [
        {"mark": {"type": "tick", "orient": "horizontal", "size": 3.8, "thickness": 1, "color": "black", "opacity": 1, "clip": true},
         "encoding": {
           "x": {"field": "x", "type": "quantitative", "scale": {"domain": [-1, 1], "nice": false, "zero": false}, "axis": {"orient": "bottom", "values": [-1, -0.5, 0, 0.5, 1], "format": "~g", "ticks": false, "labelPadding": 3, "labelFlush": false, "labelOverlap": false, "title": "XS vs CTH AH=BH=0 * ephot = 230.- 350.", "titleX": 175, "titleY": 30, "titleAlign": "center", "titleBaseline": "alphabetic"}},
           "y": {"field": "y", "type": "quantitative", "scale": {"domain": [1, 1.278], "nice": false, "zero": false}, "axis": {"orient": "left", "values": [1, 1.1, 1.2], "format": "~g", "ticks": false, "labelPadding": 4, "labelOffset": -1.5, "labelFlush": false, "labelOverlap": false, "title": null}}}},
        {"mark": {"type": "errorbar", "color": "black", "thickness": 1},
         "encoding": {"x": {"field": "x", "type": "quantitative", "axis": null}, "y": {"field": "y", "type": "quantitative", "axis": null}, "yError": {"field": "e"}}},
        {"mark": {"type": "tick", "opacity": 0, "clip": true},
         "encoding": {"x": {"field": "x", "type": "quantitative", "axis": {"orient": "bottom", "values": [-1, -0.5, 0, 0.5, 1], "tickSize": -4, "labels": false, "domain": false, "title": null}},
                      "y": {"field": "y", "type": "quantitative", "axis": {"orient": "left", "values": [1, 1.1, 1.2], "tickSize": -5, "labels": false, "domain": false, "title": null}}}},
        {"mark": {"type": "tick", "opacity": 0, "clip": true},
         "encoding": {"x": {"field": "x", "type": "quantitative", "axis": {"orient": "bottom", "values": [-0.9, -0.8, -0.7, -0.6, -0.4, -0.3, -0.2, -0.1, 0.1, 0.2, 0.3, 0.4, 0.6, 0.7, 0.8, 0.9], "tickSize": -2, "labels": false, "domain": false, "title": null}},
                      "y": {"field": "y", "type": "quantitative", "axis": {"orient": "left", "values": [1.02, 1.04, 1.06, 1.08, 1.12, 1.14, 1.16, 1.18, 1.22, 1.24, 1.26], "tickSize": -2.5, "labels": false, "domain": false, "title": null}}}},
        {"mark": {"type": "tick", "opacity": 0, "clip": true},
         "encoding": {"x": {"field": "x", "type": "quantitative", "axis": {"orient": "top", "ticks": false, "labels": false, "domain": true, "title": null}},
                      "y": {"field": "y", "type": "quantitative", "axis": {"orient": "right", "ticks": false, "labels": false, "domain": true, "title": null}}}}
      ]
    },
    {
      "width": 376, "height": 122,
      "data": {"name": "p6"},
      "resolve": {"axis": {"x": "independent", "y": "independent"}},
      "layer": [
        {"mark": {"type": "tick", "orient": "horizontal", "size": 3.8, "thickness": 1, "color": "black", "opacity": 1, "clip": true},
         "encoding": {
           "x": {"field": "x", "type": "quantitative", "scale": {"domain": [-1, 0.99], "nice": false, "zero": false}, "axis": {"orient": "bottom", "values": [-1, -0.5, 0, 0.5], "format": "~g", "ticks": false, "labelPadding": 3, "labelFlush": false, "labelOverlap": false, "title": "XS vs CTH AH=BH=0 * ephot = 350.-2027.", "titleX": 169, "titleY": 30, "titleAlign": "center", "titleBaseline": "alphabetic"}},
           "y": {"field": "y", "type": "quantitative", "scale": {"domain": [1, 1.597], "nice": false, "zero": false}, "axis": {"orient": "left", "values": [1, 1.2, 1.4], "format": "~g", "ticks": false, "labelPadding": 4, "labelOffset": -1.5, "labelFlush": false, "labelOverlap": false, "title": null}}}},
        {"mark": {"type": "errorbar", "color": "black", "thickness": 1},
         "encoding": {"x": {"field": "x", "type": "quantitative", "axis": null}, "y": {"field": "y", "type": "quantitative", "axis": null}, "yError": {"field": "e"}}},
        {"mark": {"type": "tick", "opacity": 0, "clip": true},
         "encoding": {"x": {"field": "x", "type": "quantitative", "axis": {"orient": "bottom", "values": [-1, -0.5, 0, 0.5], "tickSize": -4, "labels": false, "domain": false, "title": null}},
                      "y": {"field": "y", "type": "quantitative", "axis": {"orient": "left", "values": [1, 1.2, 1.4], "tickSize": -5, "labels": false, "domain": false, "title": null}}}},
        {"mark": {"type": "tick", "opacity": 0, "clip": true},
         "encoding": {"x": {"field": "x", "type": "quantitative", "axis": {"orient": "bottom", "values": [-0.9, -0.8, -0.7, -0.6, -0.4, -0.3, -0.2, -0.1, 0.1, 0.2, 0.3, 0.4, 0.6, 0.7, 0.8, 0.9], "tickSize": -2, "labels": false, "domain": false, "title": null}},
                      "y": {"field": "y", "type": "quantitative", "axis": {"orient": "left", "values": [1.04, 1.08, 1.12, 1.16, 1.24, 1.28, 1.32, 1.36, 1.44, 1.48, 1.52, 1.56], "tickSize": -2.5, "labels": false, "domain": false, "title": null}}}},
        {"mark": {"type": "tick", "opacity": 0, "clip": true},
         "encoding": {"x": {"field": "x", "type": "quantitative", "axis": {"orient": "top", "ticks": false, "labels": false, "domain": true, "title": null}},
                      "y": {"field": "y", "type": "quantitative", "axis": null}}}
      ]
    }
  ]
}
